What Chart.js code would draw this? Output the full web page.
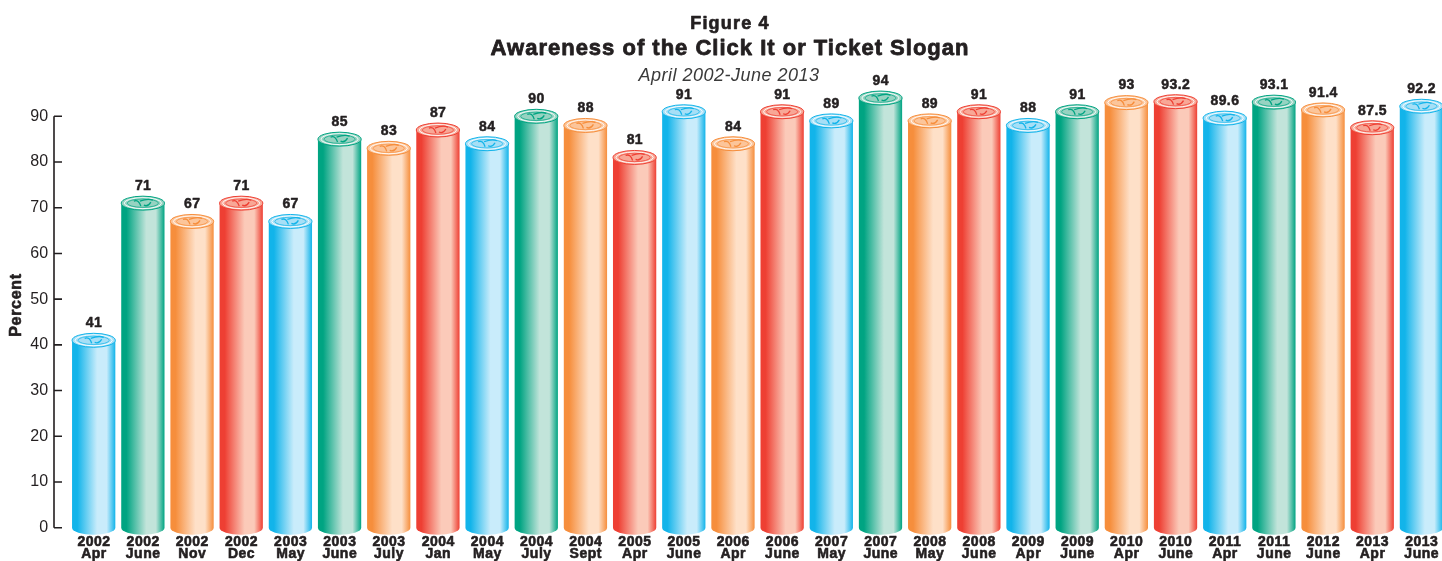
<!DOCTYPE html>
<html>
<head>
<meta charset="utf-8">
<script src="https://cdn.jsdelivr.net/npm/chart.js@4"></script>
<style>
  html, body { margin: 0; padding: 0; background: #fff; overflow: hidden; }
  #wrap { width: 1446px; height: 561px; }
</style>
</head>
<body>
<div id="wrap"><canvas id="grafico"></canvas></div>
<script>
// datos
const anios = ['2002','2002','2002','2002','2003','2003','2003','2004','2004','2004','2004','2005','2005','2006',
               '2006','2007','2007','2008','2008','2009','2009','2010','2010','2011','2011','2012','2013','2013'];
const meses = ['Apr','June','Nov','Dec','May','June','July','Jan','May','July','Sept','Apr','June','Apr',
               'June','May','June','May','June','Apr','June','Apr','June','Apr','June','June','Apr','June'];
const conocimiento = [41, 71, 67, 71, 67, 85, 83, 87, 84, 90, 88, 81, 91, 84,
                      91, 89, 94, 89, 91, 88, 91, 93, 93.2, 89.6, 93.1, 91.4, 87.5, 92.2];
const ticksY = [0, 10, 20, 30, 40, 50, 60, 70, 80, 90];

// colores de cada cilindro (borde oscuro, centro claro, tapa)
const paleta = {
    azul:    { borde: '#12b4ea', claro: '#c9ecfb', tapa: '#a6dff6' },
    verde:   { borde: '#00a482', claro: '#c2e4da', tapa: '#96d3c1' },
    naranja: { borde: '#f68e3c', claro: '#fee0c8', tapa: '#fcc59a' },
    rojo:    { borde: '#ee3f33', claro: '#fbcab9', tapa: '#f8a796' }
};
const colorBarra = ['azul','verde','naranja','rojo','azul','verde','naranja','rojo','azul','verde','naranja','rojo',
                    'azul','naranja','rojo','azul','verde','naranja','rojo','azul','verde','naranja','rojo',
                    'azul','verde','naranja','rojo','azul'];

const etiquetas = anios.map((a, i) => [a, meses[i]]);
const FUENTE = '"Liberation Sans", Arial, Helvetica, sans-serif';
const TINTA = '#231f20';

// texto negrita un poco mas grueso (relleno + trazo fino)
function textoGrueso(ctx, str, x, y, grosor) {
    ctx.lineWidth = grosor;
    ctx.strokeStyle = ctx.fillStyle;
    ctx.lineJoin = 'round';
    ctx.strokeText(str, x, y);
    ctx.fillText(str, x, y);
}

// Dibuja cada barra como cilindro
const cilindros = {
    id: 'cilindros',
    afterDatasetsDraw(chart) {
        const ctx = chart.ctx;
        const meta = chart.getDatasetMeta(0);
        meta.data.forEach((barra, i) => {
            const c = paleta[colorBarra[i]];
            const x = barra.x, y = barra.y, base = barra.base;
            const rx = barra.width / 2, ry = 7;

            ctx.save();
            // cuerpo
            const grad = ctx.createLinearGradient(x - rx, 0, x + rx, 0);
            grad.addColorStop(0, c.borde);
            grad.addColorStop(0.12, c.borde);
            grad.addColorStop(0.58, c.claro);
            grad.addColorStop(0.8, c.claro);
            grad.addColorStop(1, c.borde);
            ctx.beginPath();
            ctx.moveTo(x - rx, y);
            ctx.lineTo(x - rx, base);
            ctx.ellipse(x, base, rx, ry, 0, Math.PI, 0, true);
            ctx.lineTo(x + rx, y);
            ctx.closePath();
            ctx.fillStyle = grad;
            ctx.fill();

            // tapa
            ctx.beginPath();
            ctx.ellipse(x, y, rx, ry, 0, 0, Math.PI * 2);
            ctx.fillStyle = c.tapa;
            ctx.fill();
            ctx.lineWidth = 1;
            ctx.strokeStyle = c.borde;
            ctx.stroke();
            ctx.beginPath();
            ctx.ellipse(x, y, rx * 0.86, ry * 0.78, 0, 0, Math.PI * 2);
            ctx.strokeStyle = 'rgba(255,255,255,0.9)';
            ctx.stroke();
            ctx.beginPath();
            ctx.ellipse(x, y, rx * 0.72, ry * 0.6, 0, 0, Math.PI * 2);
            ctx.strokeStyle = c.borde;
            ctx.lineWidth = 0.7;
            ctx.stroke();
            // logo pequeño
            ctx.lineWidth = 1.3;
            ctx.beginPath();
            ctx.moveTo(x - 9, y - 2);
            ctx.quadraticCurveTo(x - 4, y - 4, x - 2, y + 3);
            ctx.moveTo(x - 3, y - 2);
            ctx.quadraticCurveTo(x + 5, y - 5, x + 10, y - 3);
            ctx.moveTo(x + 1, y + 2);
            ctx.quadraticCurveTo(x + 5, y + 4, x + 8, y - 1);
            ctx.stroke();
            ctx.restore();

            // valor
            ctx.save();
            ctx.font = 'bold 14px ' + FUENTE;
            ctx.letterSpacing = '0.4px';
            ctx.fillStyle = TINTA;
            ctx.textAlign = 'center';
            ctx.textBaseline = 'middle';
            textoGrueso(ctx, String(conocimiento[i]), x + 0.2, y - 17, 0.5);
            ctx.restore();
        });
    }
};

// Eje Y con marcas hacia dentro, etiquetas del eje X y titulos
const ejesTitulos = {
    id: 'ejesTitulos',
    afterDraw(chart) {
        const ctx = chart.ctx;
        const y = chart.scales.y;
        const x = chart.scales.x;
        const xEje = 54;
        ctx.save();
        ctx.strokeStyle = TINTA;
        ctx.lineWidth = 1.6;
        ctx.beginPath();
        ctx.moveTo(xEje, y.getPixelForValue(0));
        ctx.lineTo(xEje, y.getPixelForValue(90));
        ticksY.forEach(t => {
            const py = y.getPixelForValue(t);
            ctx.moveTo(xEje, py);
            ctx.lineTo(xEje + 8, py);
        });
        ctx.stroke();

        // etiquetas de categoria (dos lineas)
        ctx.fillStyle = TINTA;
        ctx.textAlign = 'center';
        ctx.textBaseline = 'alphabetic';
        ctx.font = 'bold 14px ' + FUENTE;
        ctx.letterSpacing = '0.5px';
        etiquetas.forEach((lineas, i) => {
            const px = x.getPixelForTick(i) + 0.3;
            textoGrueso(ctx, lineas[0], px, 546, 0.6);
            textoGrueso(ctx, lineas[1], px, 558, 0.6);
        });

        // titulo del eje Y
        ctx.save();
        ctx.translate(21, 305);
        ctx.rotate(-Math.PI / 2);
        ctx.font = 'bold 16px ' + FUENTE;
        ctx.letterSpacing = '0.7px';
        textoGrueso(ctx, 'Percent', 0, 0, 0.6);
        ctx.restore();

        ctx.fillStyle = TINTA;
        ctx.textAlign = 'center';
        ctx.font = 'bold 18px ' + FUENTE;
        ctx.letterSpacing = '1.2px';
        textoGrueso(ctx, 'Figure 4', 730, 29, 0.7);
        ctx.font = 'bold 22px ' + FUENTE;
        ctx.letterSpacing = '1px';
        textoGrueso(ctx, 'Awareness of the Click It or Ticket Slogan', 730, 55, 0.8);
        ctx.fillStyle = '#3a3a3a';
        ctx.font = 'italic 18px ' + FUENTE;
        ctx.letterSpacing = '0.5px';
        ctx.fillText('April 2002-June 2013', 729, 81);
        ctx.restore();
    }
};

const ctx = document.getElementById('grafico').getContext('2d');
const miGrafico = new Chart(ctx, {
    type: 'bar',
    data: {
        labels: etiquetas,
        datasets: [{
            data: conocimiento,
            backgroundColor: 'rgba(0,0,0,0)',
            borderWidth: 0,
            barPercentage: 0.88,
            categoryPercentage: 1
        }]
    },
    options: {
        responsive: true,
        maintainAspectRatio: false,
        animation: false,
        layout: { padding: { top: 70.6, right: 0, left: 0, bottom: 0 } },
        plugins: {
            legend: { display: false },
            tooltip: { enabled: false }
        },
        scales: {
            x: {
                grid: { display: false, drawTicks: false },
                border: { display: false },
                ticks: { display: false, autoSkip: false },
                afterFit(scale) { scale.height = 33.3; }
            },
            y: {
                min: 0,
                max: 100,
                grid: { display: false, drawTicks: false },
                border: { display: false },
                ticks: {
                    stepSize: 10,
                    color: TINTA,
                    font: { family: FUENTE, size: 16 },
                    padding: 21,
                    callback: v => (ticksY.includes(v) ? v : '')
                },
                afterFit(scale) { scale.width = 69.1; }
            }
        }
    },
    plugins: [cilindros, ejesTitulos]
});
</script>
</body>
</html>
